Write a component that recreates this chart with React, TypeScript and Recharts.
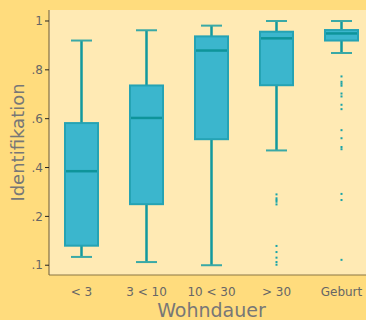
import React from 'react';
import { ComposedChart, Bar, Scatter, XAxis, YAxis, CartesianGrid } from 'recharts';

const categories = ['< 3', '3 < 10', '10 < 30', '> 30', 'Geburt'];
const whiskerLow = [0.034, 0.013, 0.0, 0.47, 0.869];
const q1 = [0.08, 0.25, 0.516, 0.737, 0.92];
const median = [0.385, 0.603, 0.879, 0.929, 0.949];
const q3 = [0.582, 0.736, 0.937, 0.956, 0.963];
const whiskerHigh = [0.92, 0.962, 0.981, 1.0, 1.0];

const outliers30 = [0.29, 0.274, 0.267, 0.26, 0.249, 0.079, 0.054, 0.031, 0.013, 0.002];
const outliersGeburt = [0.773, 0.751, 0.743, 0.735, 0.703, 0.691, 0.657, 0.639, 0.553, 0.52, 0.484, 0.475, 0.292, 0.267, 0.022];

const yTicks = [0, 0.2, 0.4, 0.6, 0.8, 1];
const yTickLabels = ['.1', '.2', '.4', '.6', '.8', '1'];

const data = categories.map((name, i) => ({
    name,
    range: [whiskerLow[i], whiskerHigh[i]],
    q1: q1[i],
    med: median[i],
    q3: q3[i]
}));

const outlierData = [
    ...outliers30.map(v => ({ name: '> 30', v })),
    ...outliersGeburt.map(v => ({ name: 'Geburt', v }))
];

const BoxShape = (props: any) => {
    const { x, y, width, height, payload } = props;
    const [lo, hi] = payload.range;
    const top = Math.min(y, y + height);
    const h = Math.abs(height);
    const py = (v: number) => top + ((hi - v) / (hi - lo)) * h;
    const cx = x + width / 2;
    const cap = 21;
    return (
        <g>
            <line x1={cx} x2={cx} y1={py(hi)} y2={py(payload.q3)} stroke="#11999e" strokeWidth={2.5} />
            <line x1={cx} x2={cx} y1={py(payload.q1)} y2={py(lo)} stroke="#11999e" strokeWidth={2.5} />
            <line x1={cx - cap / 2} x2={cx + cap / 2} y1={py(hi)} y2={py(hi)} stroke="#3aa9a6" strokeWidth={2} />
            <line x1={cx - cap / 2} x2={cx + cap / 2} y1={py(lo)} y2={py(lo)} stroke="#3aa9a6" strokeWidth={2} />
            <rect x={x} y={py(payload.q3)} width={width} height={py(payload.q1) - py(payload.q3)}
                fill="#3bb6cd" stroke="#25a3b4" strokeWidth={2} />
            <line x1={x + 1} x2={x + width - 1} y1={py(payload.med)} y2={py(payload.med)} stroke="#0e949a" strokeWidth={2.5} />
        </g>
    );
};

const OutlierShape = (props: any) => {
    const { cx, cy } = props;
    return <rect x={cx - 1} y={cy - 1} width={2} height={2} fill="#1aa3a8" />;
};

const YLabel = (props: any) => {
    const vb = props.viewBox || {};
    const cy = (vb.y || 0) + (vb.height || 0) / 2;
    return (
        <text x={17} y={cy} transform={`rotate(-90, 17, ${cy})`} textAnchor="middle" dominantBaseline="central"
            fill="#777" fontSize={18} fontFamily="DejaVu Sans">
            Identifikation
        </text>
    );
};

export default function App() {
    return (
        <div style={{
            position: 'absolute', left: 0, top: 0, width: 366, height: 320,
            overflow: 'hidden', backgroundColor: '#ffdc7d'
        }}>
            <ComposedChart width={374} height={320} data={data} margin={{ top: 10, right: 0, bottom: 0, left: 0 }}>
                <CartesianGrid horizontal={false} vertical={false} fill="#ffeab4" />
                <XAxis
                    dataKey="name"
                    type="category"
                    allowDuplicatedCategory={false}
                    height={45}
                    tickLine={false}
                    tickMargin={6}
                    axisLine={{ stroke: '#8a7645' }}
                    tick={{ fill: '#666', fontSize: 12, fontFamily: 'DejaVu Sans' }}
                    label={{ value: 'Wohndauer', position: 'insideBottom', offset: 3, fill: '#777', fontSize: 19, fontFamily: 'DejaVu Sans' }}
                />
                <YAxis
                    type="number"
                    width={49}
                    domain={[-0.04, 1.045]}
                    ticks={yTicks}
                    interval={0}
                    tickSize={4}
                    tickFormatter={(v: number) => yTickLabels[yTicks.indexOf(v)] ?? String(v)}
                    axisLine={{ stroke: '#6b5a3a' }}
                    tickLine={{ stroke: '#222' }}
                    tick={{ fill: '#666', fontSize: 12, fontFamily: 'DejaVu Sans' }}
                    label={<YLabel />}
                />
                <Bar dataKey="range" barSize={33} shape={BoxShape} isAnimationActive={false} />
                <Scatter data={outlierData} dataKey="v" shape={OutlierShape} isAnimationActive={false} />
            </ComposedChart>
        </div>
    );
}
